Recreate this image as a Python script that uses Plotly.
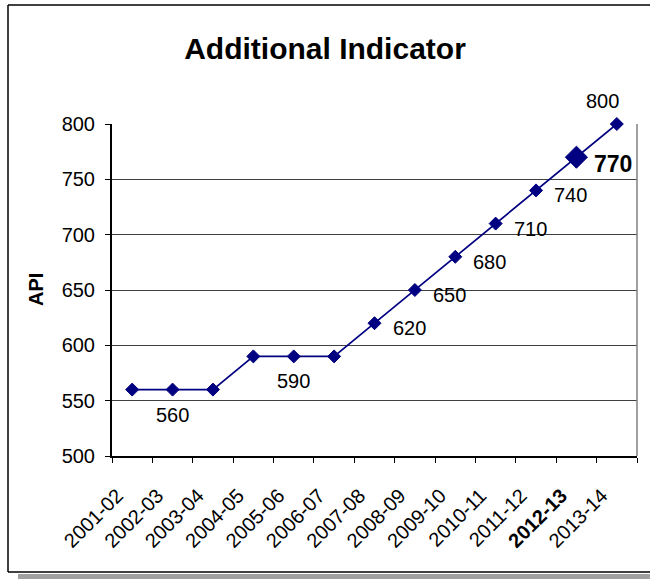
import plotly.graph_objects as go

categories = ["2001-02", "2002-03", "2003-04", "2004-05", "2005-06", "2006-07", "2007-08",
              "2008-09", "2009-10", "2010-11", "2011-12", "2012-13", "2013-14"]
api_values = [560, 560, 560, 590, 590, 590, 620, 650, 680, 710, 740, 770, 800]
highlight_category = "2012-13"
# which points carry a data label, and where it sits
label_points = {
    "2002-03": "below",
    "2005-06": "below",
    "2007-08": "right",
    "2008-09": "right",
    "2009-10": "right",
    "2010-11": "right",
    "2011-12": "right",
    "2012-13": "highlight",
    "2013-14": "above",
}

W, H = 650, 579
L, R, T, B = 112, 13, 124, 123
PW, PH = W - L - R, H - T - B

def px(x):
    return (x - L) / PW

def py(y):
    return 1 - (y - T) / PH

FONT = "Liberation Sans, Arial, sans-serif"
NAVY = "#000080"

sizes = [17 if c == highlight_category else 10 for c in categories]

fig = go.Figure()
fig.add_trace(go.Scatter(
    x=categories, y=api_values, mode="lines+markers",
    line=dict(color=NAVY, width=1.7),
    marker=dict(symbol="diamond", size=sizes, color=NAVY, opacity=1, line=dict(width=1, color=NAVY)),
    showlegend=False, hoverinfo="x+y", cliponaxis=False,
))

LBL = 20
annotations = []
for c, v in zip(categories, api_values):
    pos = label_points.get(c)
    if pos is None:
        continue
    if pos == "below":
        annotations.append(dict(x=c, y=v, text=str(v), showarrow=False, xanchor="center",
                                yanchor="middle", yshift=-25, font=dict(size=LBL, color="black", family=FONT)))
    elif pos == "right":
        annotations.append(dict(x=c, y=v, text=str(v), showarrow=False, xanchor="left",
                                yanchor="middle", xshift=16, yshift=-5, font=dict(size=LBL, color="black", family=FONT)))
    elif pos == "highlight":
        annotations.append(dict(x=c, y=v, text="<b>%d</b>" % v, showarrow=False, xanchor="left",
                                yanchor="middle", xshift=16, yshift=-7, font=dict(size=23, color="black", family=FONT)))
    elif pos == "above":
        annotations.append(dict(x=c, y=v, text=str(v), showarrow=False, xanchor="center",
                                yanchor="middle", xshift=-14, yshift=23, font=dict(size=LBL, color="black", family=FONT)))

annotations.append(dict(xref="paper", yref="paper", x=px(36), y=py(290), text="<b>API</b>",
                        textangle=-90, showarrow=False, xanchor="center", yanchor="middle",
                        font=dict(size=20, color="black", family=FONT)))

tick_text = ["<b>%s</b>" % c if c == highlight_category else c for c in categories]

shapes = [
    # shadow
    dict(type="rect", xref="paper", yref="paper", x0=px(18), x1=px(W), y0=py(H), y1=py(574),
         fillcolor="#a0a0a0", line=dict(width=0), layer="below"),
    # outer frame (top, left, bottom; right edge lies outside the picture)
    dict(type="line", xref="paper", yref="paper", x0=px(8), x1=px(W), y0=py(5), y1=py(5),
         line=dict(color="black", width=1.5)),
    dict(type="line", xref="paper", yref="paper", x0=px(8), x1=px(8), y0=py(5), y1=py(572),
         line=dict(color="black", width=1.5)),
    dict(type="line", xref="paper", yref="paper", x0=px(8), x1=px(W), y0=py(572), y1=py(572),
         line=dict(color="black", width=1.5)),
    # plot area right border
    dict(type="line", xref="paper", yref="paper", x0=1, x1=1, y0=0, y1=1,
         line=dict(color="#808080", width=1.5)),
]

fig.update_layout(
    width=W, height=H,
    margin=dict(l=L, r=R, t=T, b=B, pad=0, autoexpand=False),
    paper_bgcolor="white", plot_bgcolor="rgba(0,0,0,0)",
    font=dict(family=FONT, color="black"),
    title=dict(text="<b>Additional Indicator</b>", x=325 / W, xref="container", xanchor="center",
               y=1 - 48 / H, yanchor="middle", font=dict(size=30, family=FONT, color="black")),
    xaxis=dict(type="category", range=[-0.5, len(categories) - 0.5],
               tickmode="array", tickvals=categories, ticktext=tick_text,
               tickangle=-45, tickfont=dict(size=20, family=FONT, color="black"),
               ticklabelshift=-15, ticklabelstandoff=18,
               ticks="outside", tickson="boundaries", ticklen=5, tickcolor="black", tickwidth=1,
               showline=True, linecolor="black", linewidth=2, showgrid=False, zeroline=False),
    yaxis=dict(range=[500, 800], tickvals=[500, 550, 600, 650, 700, 750, 800],
               tickfont=dict(size=20, family=FONT, color="black"), ticklabelstandoff=6,
               ticks="outside", ticklen=5, tickcolor="black", tickwidth=1,
               showline=True, linecolor="black", linewidth=2,
               showgrid=True, gridcolor="#404040", gridwidth=1, zeroline=False),
    annotations=annotations,
    shapes=shapes,
)

fig.write_html("out.html", config={"displayModeBar": False},
               post_script="document.body.style.margin='0';document.body.style.overflow='hidden';document.documentElement.style.overflow='hidden';")
